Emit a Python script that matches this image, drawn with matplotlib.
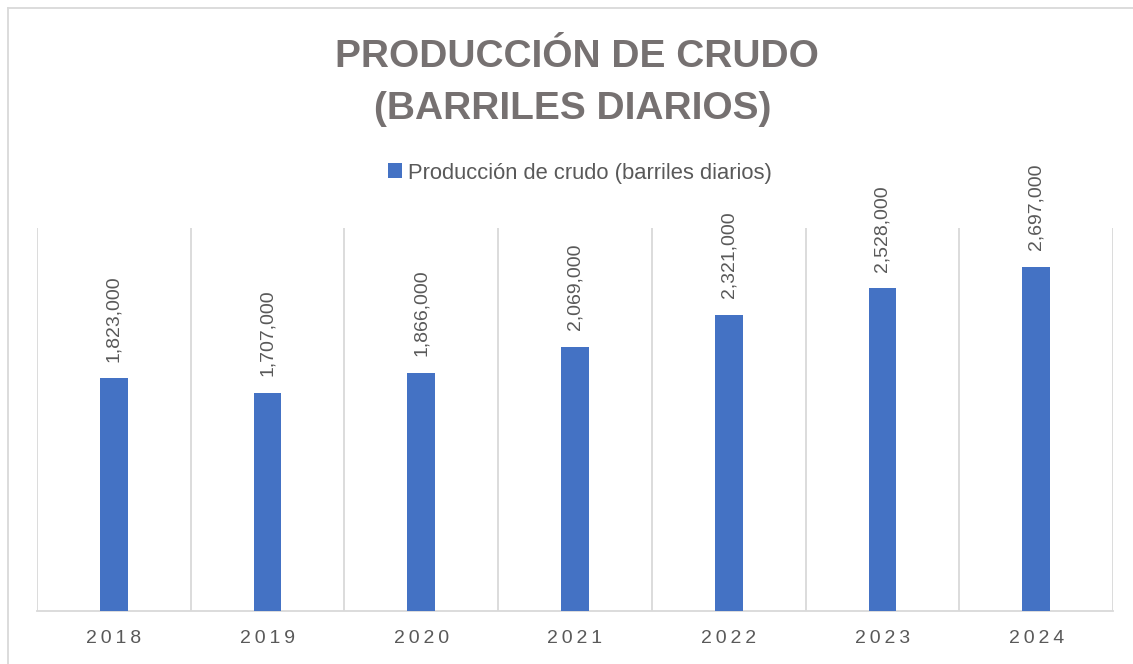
import numpy as np
import matplotlib.pyplot as plt
from matplotlib.lines import Line2D

years = ['2018', '2019', '2020', '2021', '2022', '2023', '2024']
produccion = [1823000, 1707000, 1866000, 2069000, 2321000, 2528000, 2697000]
serie = 'Producción de crudo (barriles diarios)'
titulo = ['PRODUCCIÓN DE CRUDO', '(BARRILES DIARIOS)']

W, H = 1133, 664
plt.rcParams['font.family'] = ['Liberation Sans', 'DejaVu Sans']

def spaced(s, sep='\u2009'):
    return sep.join(s)

fig = plt.figure(figsize=(W / 100, H / 100), dpi=100)
ax = fig.add_axes([37 / W, 1 - 611 / H, (1113 - 37) / W, (611 - 228) / H])

x = np.arange(len(years))
bars = ax.bar(x, produccion, width=0.18, color='#4472C4', label=serie, zorder=3)

for xi, v in zip(x, produccion):
    ax.annotate(f'{v:,}', (xi, v), xytext=(0, 12), textcoords='offset points',
                rotation=90, ha='center', va='bottom', fontsize=14,
                color='#595959')

ax.set_xlim(-0.5, len(years) - 0.5)
ax.set_ylim(0, 3000000)
ax.set_yticks([])
ax.set_xticks(x)
ax.set_xticklabels([spaced(y) for y in years], fontsize=14, color='#595959')
ax.tick_params(axis='x', length=0, pad=14)
ax.set_xticks(np.arange(-0.5, len(years), 1), minor=True)
ax.tick_params(axis='x', which='minor', length=0)
ax.grid(axis='x', which='minor', color='#d9d9d9', lw=1.3, zorder=0)
for s in ['top', 'left', 'right']:
    ax.spines[s].set_visible(False)
ax.spines['bottom'].set_color('#d9d9d9')
ax.spines['bottom'].set_linewidth(1.3)

fig.text(577 / W, 1 - 57 / H, titulo[0], ha='center', va='center',
         fontsize=28, fontweight='bold', color='#767171')
fig.text(573 / W, 1 - 109 / H, titulo[1], ha='center', va='center',
         fontsize=28, fontweight='bold', color='#767171')

fig.legend(handles=[bars], labels=[serie], loc='center', bbox_to_anchor=(580 / W, 1 - 173 / H),
           frameon=False, fontsize=15.8, labelcolor='#595959', handlelength=0.65,
           handleheight=0.65, handletextpad=0.3)

fig.add_artist(Line2D([8 / W, 8 / W], [0, 1 - 8 / H], color='#d9d9d9', lw=1.3))
fig.add_artist(Line2D([8 / W, 1], [1 - 8 / H, 1 - 8 / H], color='#d9d9d9', lw=1.3))

fig.savefig('out.png', dpi=100)
